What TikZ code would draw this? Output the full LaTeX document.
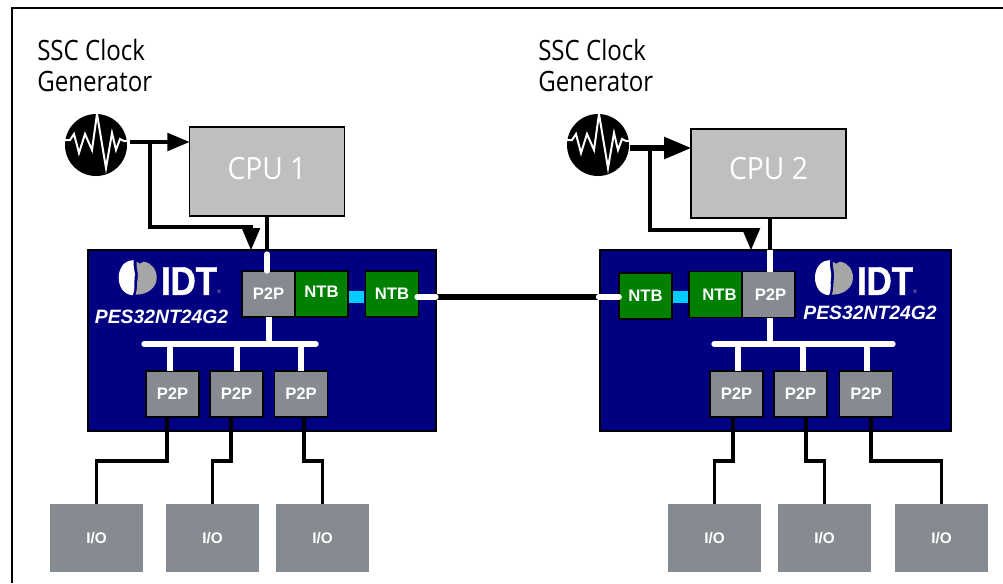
\documentclass[tikz,border=0pt]{standalone}
\usepackage{fontspec}
\setmainfont{Liberation Sans}
\newfontfamily\labelfont[FakeStretch=0.86]{Open Sans}
\newfontfamily\cpufont[FakeStretch=0.92]{Open Sans}
\newfontfamily\brandfont[FakeBold=1.2,FakeStretch=0.87]{Liberation Sans Bold}
\usetikzlibrary{arrows,positioning,calc}
\definecolor{chipblue}{HTML}{000080}
\definecolor{ntbgreen}{HTML}{008000}
\definecolor{portgray}{HTML}{858B90}
\definecolor{cpugray}{HTML}{BFBFBF}
\definecolor{bridgecyan}{HTML}{00CCFF}
\begin{document}
\begin{tikzpicture}
[x=0.75pt,y=-0.75pt,
 chip/.style={rectangle,draw=black,fill=chipblue,line width=1.2pt,inner sep=0pt,outer sep=0pt,minimum width=#1,minimum height=135.75pt},
 cpu/.style={rectangle,draw=black,fill=cpugray,line width=1.2pt,inner sep=0pt,outer sep=0pt,minimum width=116.5pt,minimum height=67pt,text=white,font=\cpufont\fontsize{23}{27}\selectfont},
 p2p/.style={rectangle,draw=black,fill=portgray,line width=1.2pt,inner sep=0pt,outer sep=0pt,minimum width=39.5pt,minimum height=34.5pt,text=white,font=\bfseries\fontsize{12.5}{15}\selectfont},
 ntb/.style={rectangle,draw=black,fill=ntbgreen,line width=1.2pt,inner sep=0pt,outer sep=0pt,minimum width=39.5pt,minimum height=34.5pt,text=white,font=\bfseries\fontsize{12.5}{15}\selectfont},
 io/.style={rectangle,fill=portgray,inner sep=0pt,outer sep=0pt,minimum width=69.5pt,minimum height=51pt,text=white,font=\bfseries\fontsize{11.5}{14}\selectfont},
 bridge/.style={rectangle,fill=bridgecyan,inner sep=0pt,outer sep=0pt,minimum width=11.5pt,minimum height=9pt},
 clk/.style={circle,fill=black,inner sep=0pt,outer sep=0pt,minimum size=46.5pt},
 caption/.style={align=left,anchor=west,inner sep=0pt,font=\labelfont\fontsize{21}{23.25}\selectfont},
 partno/.style={text=white,inner sep=0pt,font=\bfseries\itshape\fontsize{14.5}{17}\selectfont},
 brand/.style={text=white,inner sep=0pt,font=\brandfont\fontsize{30}{32}\selectfont},
 regmark/.style={text=black!35,inner sep=0pt,font=\fontsize{4}{4}\selectfont},
 sig/.style={draw=black,line width=2.9pt},
 wide/.style={draw=black,line width=3.8pt},
 bus/.style={draw=white,line width=4pt,line cap=round},
 stub/.style={draw=white,line width=4pt},
 wave/.pic={\draw[white,line width=1.5pt,miter limit=20]
   (-31,-5) -- (-26,-5) -- (-22,-11) -- (-17,8) -- (-11,-11) -- (-4,5) -- (1,-31) -- (10,23) -- (16,-12) -- (20,5) -- (24,-6) -- (28,-4) -- (31,-4);},
 logo/.pic={\fill[white] (-4,-17.5) .. controls (-14,-17.5) and (-19,-9) .. (-19,0)
     .. controls (-19,9) and (-14,17) .. (-5,17.5) .. controls (-2,10) and (-4,6) .. (-3,0) .. controls (-2,-6) and (-5,-10) .. (-4,-17.5);
   \fill[black!35] (-1,-16) -- (2,-14) -- (6,-16) .. controls (14,-15) and (19,-8) .. (19,0)
     .. controls (19,9) and (11,17) .. (-2,17) .. controls (0,10) and (-1,6) .. (0,0) .. controls (1,-6) and (-2,-10) .. (-1,-16);}]
\useasboundingbox (0,0) rectangle (1003,583);
\coordinate (frametop) at (1003,8);
\coordinate (framebot) at (12,583);
\draw[line width=1.5pt] (framebot) -- (framebot |- frametop) -- (frametop);
% left host
\node[caption] (cap1) at (37,65) {SSC Clock\\Generator};
\node[clk] (clk1) at (96,145) {};
\pic at (clk1) {wave};
\node[cpu] (cpu1) at (267,171.5) {\raisebox{5pt}{CPU 1}\hspace{3pt}};
\node[chip=261pt] (chip1) at (262,340.5) {};
\pic at (137.7,277.7) {logo};
\node[brand] (idt1) at (189,281) {IDT};
\node[regmark] (reg1) at (219,292) {®};
\node[partno] (pes1) at (161.5,317) {PES32NT24G2};
\node[p2p] (up1) at (268.5,294) {P2P};
\node[ntb] (ntb1) at (321.5,294) {\raisebox{3.4pt}{NTB}};
\node[bridge] (br1) at (356.5,297) {};
\node[ntb] (ntb2) at (392,294) {\raisebox{1pt}{NTB}};
\node[p2p] (pa) at (172.5,394) {P2P};
\node[p2p] (pb) at (236.5,394) {P2P};
\node[p2p] (pc) at (301,394) {P2P};
\node[io] (ioa) at (96.5,538) {I/O};
\node[io] (iob) at (212.5,538) {I/O};
\node[io] (ioc) at (322.5,538) {I/O};
% right host
\node[caption] (cap2) at (538,65) {SSC Clock\\Generator};
\node[clk] (clk2) at (598,145) {};
\pic at (clk2) {wave};
\node[cpu] (cpu2) at (768.5,173.5) {\raisebox{8pt}{CPU 2}\hspace{7pt}};
\node[chip=263.25pt] (chip2) at (775.5,340.5) {};
\pic at (834,277.7) {logo};
\node[brand] (idt2) at (885,281) {IDT};
\node[regmark] (reg2) at (915,292) {®};
\node[partno] (pes2) at (870,313) {PES32NT24G2};
\node[ntb] (ntb3) at (645.5,296) {NTB};
\node[bridge] (br2) at (680.5,297) {};
\node[ntb] (ntb4) at (715.5,294.5) {\hspace{6pt}\raisebox{-3.5pt}{NTB}};
\node[p2p] (up2) at (768.5,294.5) {\hspace{3pt}P2P};
\node[p2p] (pd) at (736.5,394) {P2P};
\node[p2p] (pe) at (800.5,394) {P2P};
\node[p2p] (pf) at (866,394) {P2P};
\node[io] (iod) at (714.5,538) {I/O};
\node[io] (ioe) at (824.5,538) {I/O};
\node[io] (iof) at (941.5,538) {I/O};
% clock lines
\coordinate (out1) at (130,142);
\coordinate (jn1) at (150,142);
\coordinate (bend1) at (251,227);
\draw[sig,-triangle 45] (out1) -- (out1 -| cpu1.west);
\draw[sig,-triangle 45] (jn1) |- (bend1) -- (bend1 |- chip1.north);
\coordinate (out2) at (630,148);
\coordinate (jn2) at (650,148);
\coordinate (bend2) at (751,230);
\draw[wide,-triangle 45] (out2) -- (out2 -| cpu2.west);
\draw[sig,-triangle 45] (jn2) |- (bend2) -- (bend2 |- chip2.north);
% cpu to chip
\coordinate (in1) at (267,254);
\coordinate (in2) at (770,250);
\draw[sig] (cpu1.south) -- (cpu1.south |- chip1.north);
\draw[bus] (in1) -- (in1 |- up1.north);
\draw[sig] (in2 |- cpu2.south) -- (in2);
\draw[stub] (in2) -- (in2 |- up2.north);
% link between the chips
\coordinate (end1) at (417,297);
\coordinate (end2) at (600,297);
\draw[wide] (chip1.east |- end1) -- (end2);
\draw[bus] (end1) -- (end1 -| chip1.east);
\draw[bus] (end2 -| ntb3.west) -- (598.5,297);
% left bus
\coordinate (busl1) at (144,344);
\coordinate (busr1) at (316,344);
\draw[bus] (busl1) -- (busr1);
\draw[stub] (busl1 -| 269,0) -- (269,0 |- up1.south);
\draw[stub] (busl1 -| 170,0) -- (170,0 |- pa.north);
\draw[stub] (busl1 -| 237,0) -- (237,0 |- pb.north);
\draw[stub] (busl1 -| 301,0) -- (301,0 |- pc.north);
% right bus
\coordinate (busl2) at (714,344);
\coordinate (busr2) at (893,344);
\draw[bus] (busl2) -- (busr2);
\draw[stub] (busl2 -| 770,0) -- (770,0 |- up2.south);
\draw[stub] (busl2 -| 738,0) -- (738,0 |- pd.north);
\draw[stub] (busl2 -| 803,0) -- (803,0 |- pe.north);
\draw[stub] (busl2 -| 867,0) -- (867,0 |- pf.north);
% io lines
\coordinate (ra) at (167,461);
\coordinate (rb) at (231,461);
\coordinate (rc) at (304,461);
\coordinate (rd) at (733,461);
\coordinate (re) at (806,461);
\coordinate (rf) at (871,461);
\draw[sig] (ra |- pa.south) -- (ra) -| (ioa.north);
\draw[sig] (rb |- pb.south) -- (rb) -| (iob.north);
\draw[sig] (rc |- pc.south) -- (rc) -| (ioc.north);
\draw[sig] (rd |- pd.south) -- (rd) -| (iod.north);
\draw[sig] (re |- pe.south) -- (re) -| (ioe.north);
\draw[sig] (rf |- pf.south) -- (rf) -| (iof.north);
\end{tikzpicture}
\end{document}
